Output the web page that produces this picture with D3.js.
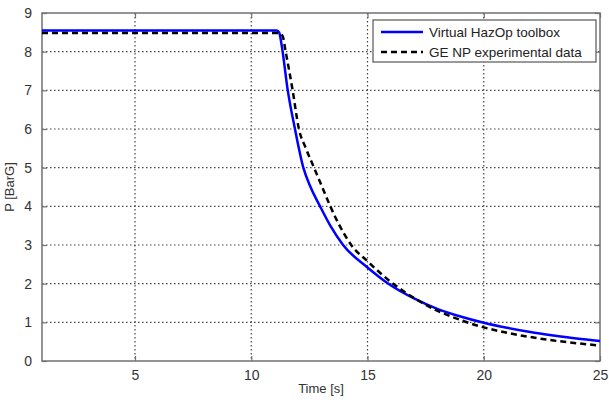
<!DOCTYPE html>
<html><head><meta charset="utf-8">
<script src="https://cdn.jsdelivr.net/npm/d3@7"></script>
<style>body{margin:0;background:#fff}svg{display:block}text{font-family:"Liberation Sans",Arial,sans-serif}</style>
</head><body><svg id="c" width="609" height="400"></svg>
<script>
const xTicks = [5, 10, 15, 20, 25];
const yTicks = [0, 1, 2, 3, 4, 5, 6, 7, 8, 9];
const seriesNames = ["Virtual HazOp toolbox", "GE NP experimental data"];
const hazopT = [1, 11.1, 11.2, 11.3, 11.57, 11.88, 12.24, 12.55, 12.96, 13.4, 13.95, 15, 15.9, 17, 18, 19, 20, 21, 22, 23, 24, 25];
const hazopP = [8.55, 8.55, 8.5, 8.2, 7.0, 6.0, 5.0, 4.5, 4.0, 3.5, 3.0, 2.42, 2.0, 1.62, 1.35, 1.15, 0.99, 0.86, 0.75, 0.66, 0.58, 0.52];
const expT = [1, 11.2, 11.35, 11.48, 11.78, 12.05, 12.35, 12.7, 13.05, 13.4, 13.8, 14.3, 15, 16.1, 17, 18, 19, 20, 21, 22, 23, 24, 25];
const expP = [8.48, 8.48, 8.4, 8.0, 7.0, 6.0, 5.5, 5.0, 4.5, 4.0, 3.5, 3.0, 2.58, 2.0, 1.63, 1.3, 1.06, 0.87, 0.73, 0.62, 0.53, 0.46, 0.40];

const svg = d3.select("#c");
const L = 42, R = 600, T = 13, B = 361;
const x = d3.scaleLinear().domain([1, 25]).range([L, R]);
const y = d3.scaleLinear().domain([0, 9]).range([B, T]);
const gridCol = "#444", axCol = "#707070", txtCol = "#333";

// grid
const g = svg.append("g");
g.selectAll(".gx").data(xTicks.filter(d => d < 25)).enter().append("line")
  .attr("x1", d => x(d)).attr("x2", d => x(d)).attr("y1", T).attr("y2", B)
  .attr("stroke", gridCol).attr("stroke-width", 1.2).attr("stroke-dasharray", "1.5,2.5");
g.selectAll(".gy").data(yTicks.filter(d => d > 0 && d < 9)).enter().append("line")
  .attr("y1", d => y(d)).attr("y2", d => y(d)).attr("x1", L).attr("x2", R)
  .attr("stroke", gridCol).attr("stroke-width", 1.2).attr("stroke-dasharray", "1.5,2.5");

// axes with inward ticks
const axB = d3.axisBottom(x).tickValues(xTicks).tickSize(-5).tickPadding(9).tickFormat(d3.format("d"));
const axT = d3.axisTop(x).tickValues(xTicks).tickSize(-5).tickFormat("");
const axL = d3.axisLeft(y).tickValues(yTicks).tickSize(-5).tickPadding(10).tickFormat(d3.format("d"));
const axRt = d3.axisRight(y).tickValues(yTicks).tickSize(-5).tickFormat("");
function style(sel) {
  sel.select(".domain").remove();
  sel.selectAll("line").attr("stroke", axCol).attr("stroke-width", 1.2);
  sel.selectAll("text").attr("fill", txtCol).style("font-size", "14px").style("font-family", '"Liberation Sans",Arial,sans-serif');
}
svg.append("g").attr("transform", `translate(0,${B})`).call(axB).call(style);
svg.append("g").attr("transform", `translate(0,${T})`).call(axT).call(style);
svg.append("g").attr("transform", `translate(${L},0)`).call(axL).call(style);
svg.append("g").attr("transform", `translate(${R},0)`).call(axRt).call(style);

// box
svg.append("rect").attr("x", L).attr("y", T).attr("width", R - L).attr("height", B - T)
  .attr("fill", "none").attr("stroke", axCol).attr("stroke-width", 1.5);

// lines
const line = d3.line().x(d => x(d[0])).y(d => y(d[1])).curve(d3.curveMonotoneX);
const hz = hazopT.map((t, i) => [t, hazopP[i]]);
const ex = expT.map((t, i) => [t, expP[i]]);
svg.append("path").datum(hz).attr("d", line).attr("fill", "none").attr("stroke", "#0000ff").attr("stroke-width", 2.5);
svg.append("path").datum(ex).attr("d", line).attr("fill", "none").attr("stroke", "#000").attr("stroke-width", 2.5).attr("stroke-dasharray", "6,4");

// labels
svg.append("text").attr("x", (L + R) / 2).attr("y", 393).attr("text-anchor", "middle")
  .attr("fill", txtCol).style("font-size", "13px").text("Time [s]");
svg.append("text").attr("transform", `translate(14,${(T + B) / 2}) rotate(-90)`).attr("text-anchor", "middle")
  .attr("fill", txtCol).style("font-size", "13px").text("P [BarG]");

// legend
const lg = svg.append("g");
lg.append("rect").attr("x", 373).attr("y", 20).attr("width", 223).attr("height", 42)
  .attr("fill", "#fff").attr("stroke", "#555").attr("stroke-width", 1.2);
const styles = [{c: "#0000ff", d: null}, {c: "#000", d: "6,4"}];
seriesNames.forEach((n, i) => {
  const yy = 32 + i * 20;
  lg.append("line").attr("x1", 381).attr("x2", 423).attr("y1", yy).attr("y2", yy)
    .attr("stroke", styles[i].c).attr("stroke-width", 2.5).attr("stroke-dasharray", styles[i].d);
  lg.append("text").attr("x", 429).attr("y", yy + 5).attr("fill", "#222").style("font-size", "13.5px").text(n);
});
</script></body></html>
